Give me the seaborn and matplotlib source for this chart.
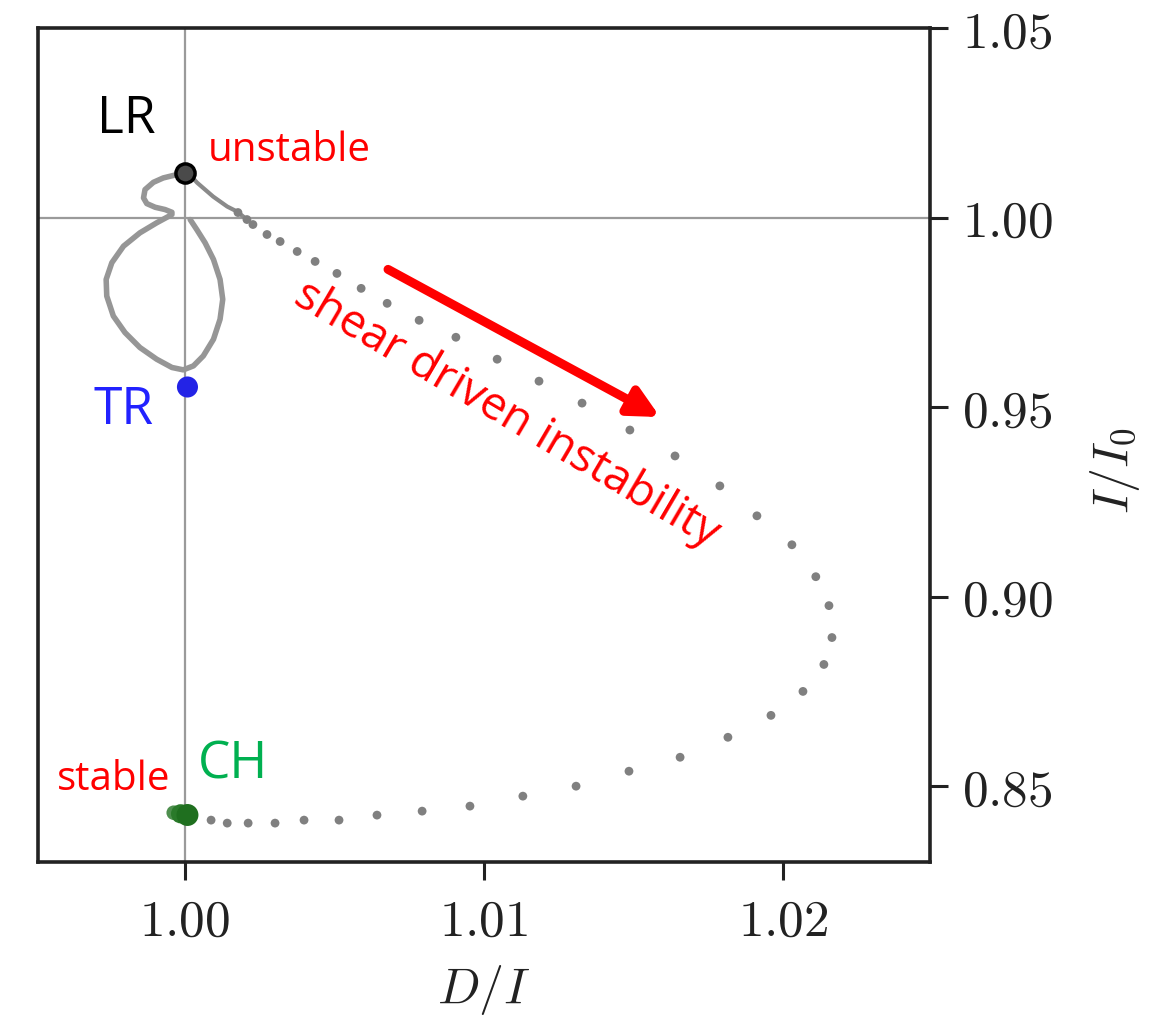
import matplotlib
matplotlib.use("Agg")
import matplotlib.pyplot as plt
import seaborn as sns
import pandas as pd
from matplotlib.ticker import FixedLocator, FuncFormatter

# Slow part of the trajectory: curl at LR and the loop down towards TR
loop_x = [1.00011, 0.99972, 0.99927, 0.99894, 0.99866, 0.99861, 0.99872,
          0.99900, 0.99933, 0.99956, 0.99956, 0.99905, 0.99849, 0.99794,
          0.99755, 0.99736, 0.99738, 0.99760, 0.99799, 0.99849, 0.99905,
          0.99956, 0.99994, 1.00028, 1.00061, 1.00095, 1.00117, 1.00126,
          1.00117, 1.00095, 1.00067, 1.00039, 1.00017]
loop_y = [1.01176, 1.01132, 1.01045, 1.00929, 1.00737, 1.00518, 1.00368,
          1.00271, 1.00211, 1.00139, 1.00079, 0.99861, 0.99597, 0.99245,
          0.98808, 0.98368, 0.97929, 0.97403, 0.96966, 0.96571, 0.96263,
          0.96045, 0.95982, 0.96087, 0.96350, 0.96789, 0.97316, 0.97842,
          0.98368, 0.98895, 0.99334, 0.99684, 0.99947]

# Start of the fast branch leaving LR
lead_x = [1.00010, 1.00040, 1.00094, 1.00141, 1.00174, 1.00207]
lead_y = [1.01184, 1.00921, 1.00553, 1.00290, 1.00158, 0.99947]

# Sampled states along the shear-driven branch towards CH
trail_x = [1.00177, 1.00207, 1.00227, 1.00274, 1.00318, 1.00375, 1.00435,
           1.00508, 1.00589, 1.00676, 1.00783, 1.00906, 1.01044, 1.01184,
           1.01328, 1.01488, 1.01639, 1.01789, 1.01913, 1.02030, 1.02110,
           1.02154, 1.02164, 1.02137, 1.02067, 1.01960, 1.01816, 1.01656,
           1.01485, 1.01308, 1.01130, 1.00953, 1.00793, 1.00642, 1.00515,
           1.00398, 1.00301, 1.00211, 1.00141, 1.00087]
trail_y = [1.00132, 0.99947, 0.99816, 0.99553, 0.99368, 0.99105, 0.98842,
           0.98526, 0.98132, 0.97737, 0.97290, 0.96842, 0.96263, 0.95684,
           0.95105, 0.94395, 0.93711, 0.92921, 0.92132, 0.91368, 0.90526,
           0.89763, 0.88921, 0.88211, 0.87500, 0.86868, 0.86290, 0.85763,
           0.85395, 0.85000, 0.84737, 0.84474, 0.84342, 0.84237, 0.84105,
           0.84105, 0.84026, 0.84026, 0.84026, 0.84105]

# Characteristic states
lr_x, lr_y = 1.00000, 1.01184
tr_x, tr_y = 1.00008, 0.95530
ch_x = [0.99962, 0.99985, 1.00008]
ch_y = [0.84300, 0.84272, 0.84240]

xticks = [1.00, 1.01, 1.02]
yticks = [0.85, 0.90, 0.95, 1.00, 1.05]

sns.set_theme(style="ticks")
plt.rcParams["mathtext.fontset"] = "cm"
plt.rcParams["font.family"] = ["DejaVu Sans"]

fig = plt.figure(figsize=(11.52, 10.24), dpi=100)
ax = fig.add_axes([38 / 1152, 1 - 862 / 1024, (930 - 38) / 1152, (862 - 28) / 1024])

grey = "#9a9a9a"
ax.axvline(1.0, color=grey, lw=1.6, zorder=1)
ax.axhline(1.0, color=grey, lw=1.6, zorder=1)

loop_df = pd.DataFrame({"x": loop_x, "y": loop_y})
sns.lineplot(data=loop_df, x="x", y="y", sort=False, estimator=None,
             color="#969696", lw=4.0, ax=ax, zorder=2,
             solid_joinstyle="round", solid_capstyle="round")
lead_df = pd.DataFrame({"x": lead_x, "y": lead_y})
sns.lineplot(data=lead_df, x="x", y="y", sort=False, estimator=None,
             color="#8a8a8a", lw=3.0, ax=ax, zorder=2,
             solid_capstyle="round")
trail_df = pd.DataFrame({"x": trail_x, "y": trail_y})
sns.scatterplot(data=trail_df, x="x", y="y", color="#808080", s=40,
                edgecolor="none", ax=ax, zorder=3)

ax.scatter([lr_x], [lr_y], s=190, facecolor="#4a4a4a", edgecolor="black",
           linewidth=2.5, zorder=4)
ax.scatter([tr_x], [tr_y], s=230, color="#2323e6", edgecolor="none", zorder=4)
ax.scatter(ch_x, ch_y, s=[110, 190, 250], color=["#4e8f4e", "#2a7a2a", "#1f6f1f"],
           edgecolor="none", zorder=4)

ax.set_xlim(0.99508, 1.02492)
ax.set_ylim(0.83, 1.05)

ax.xaxis.set_major_locator(FixedLocator(xticks))
ax.yaxis.set_major_locator(FixedLocator(yticks))
fmt = FuncFormatter(lambda v, p: r"$%.2f$" % v)
ax.xaxis.set_major_formatter(fmt)
ax.yaxis.set_major_formatter(fmt)
ax.yaxis.tick_right()
ax.tick_params(axis="both", direction="out", length=13, width=2.2,
               color="#222222", labelsize=37, labelcolor="#222222", pad=10)
ax.tick_params(axis="x", pad=12)
for s in ax.spines.values():
    s.set_visible(True)
    s.set_linewidth(2.6)
    s.set_color("#222222")

ax.set_xlabel(r"$D/I$", fontsize=36, color="#222222")
ax.set_ylabel(r"$I/I_0$", fontsize=36, color="#222222", rotation=90)
ax.yaxis.set_label_position("right")
ax.xaxis.set_label_coords(0.5, -0.121)
ax.yaxis.set_label_coords(1.177, 0.47)

note_font = ["Open Sans", "DejaVu Sans"]
ax.text(0.99705, 1.02237, "LR", fontsize=37, color="black", family=note_font,
        ha="left", va="baseline")
ax.text(1.00077, 1.01482, "unstable", fontsize=29, color="#ff0000",
        family=note_font, ha="left", va="baseline")
ax.text(0.99693, 0.94553, "TR", fontsize=37, color="#2222ff", family=note_font,
        ha="left", va="baseline")
ax.text(0.99571, 0.84900, "stable", fontsize=29, color="#ff0000",
        family=note_font, ha="left", va="baseline")
ax.text(1.00044, 0.85211, "CH", fontsize=37, color="#00b050", family=note_font,
        ha="left", va="baseline")
ax.text(1.01075, 0.94800, "shear driven instability", fontsize=33,
        color="#ff0000", family=note_font, rotation=-30.4,
        rotation_mode="anchor", ha="center", va="center")
ax.annotate("", xy=(1.01589, 0.94737), xytext=(1.00679, 0.98632),
            arrowprops=dict(arrowstyle="-|>", color="#ff0000", lw=6.5,
                            mutation_scale=44, shrinkA=0, shrinkB=0))

fig.savefig("out.png", dpi=100, facecolor="white")
